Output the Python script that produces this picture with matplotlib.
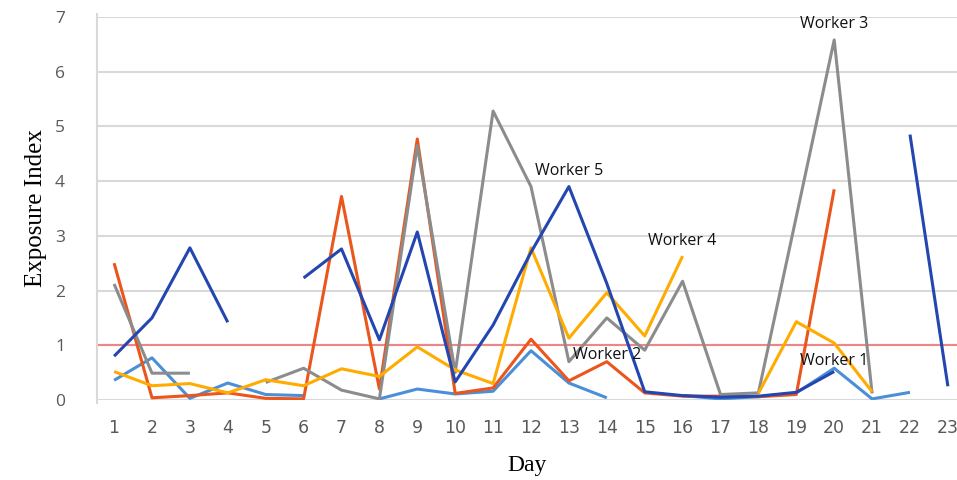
import numpy as np
import matplotlib
matplotlib.use("Agg")
import matplotlib.pyplot as plt

nan = np.nan

# Datos (dias 1-23)
dias = list(range(1, 24))
worker1 = [0.36, 0.77, 0.03, 0.31, 0.10, 0.08, nan, 0.02, 0.20, 0.11, 0.16, 0.90,
           0.31, 0.04, nan, 0.08, 0.02, 0.06, 0.13, 0.58, 0.02, 0.14, nan]
worker2 = [2.50, 0.04, 0.08, 0.13, 0.03, 0.02, 3.72, 0.20, 4.77, 0.12, 0.22, 1.11,
           0.35, 0.70, 0.13, 0.07, 0.07, 0.06, 0.10, 3.85, nan, nan, nan]
worker3 = [2.12, 0.49, 0.49, nan, 0.32, 0.58, 0.18, 0.02, 4.65, 0.50, 5.28, 3.90,
           0.70, 1.50, 0.91, 2.17, 0.10, 0.13, 3.35, 6.58, 0.12, nan, nan]
worker4 = [0.52, 0.26, 0.30, 0.13, 0.37, 0.26, 0.57, 0.43, 0.97, 0.55, 0.30, 2.78,
           1.13, 1.96, 1.17, 2.63, nan, 0.12, 1.43, 1.04, 0.15, nan, nan]
worker5 = [0.80, 1.50, 2.78, 1.42, nan, 2.23, 2.76, 1.10, 3.07, 0.33, 1.37, 2.70,
           3.90, 2.13, 0.15, 0.08, 0.05, 0.07, 0.14, 0.52, nan, 4.85, 0.25]
umbral = 1

series = [
    ("Worker 1", worker1, "#4a8fd8"),
    ("Worker 2", worker2, "#ea561c"),
    ("Worker 3", worker3, "#8c8c8c"),
    ("Worker 4", worker4, "#ffab00"),
    ("Worker 5", worker5, "#2346b0"),
]

# Etiquetas de texto (nombre, dia, valor)
etiquetas = [
    ("Worker 5", 13.0, 4.18),
    ("Worker 4", 16.0, 2.9),
    ("Worker 2", 14.0, 0.83),
    ("Worker 1", 20.0, 0.72),
    ("Worker 3", 20.0, 6.88),
]

fig = plt.figure(figsize=(9.57, 4.8), dpi=100)
ax = fig.add_axes([0.1014, 0.1667, 0.8986, 0.798])

for nombre, valores, color in series:
    ax.plot(dias, valores, color=color, linewidth=2.2, solid_capstyle="butt", zorder=3)

ax.axhline(umbral, color="#f08585", linewidth=1.5, zorder=2)

for texto, x, y in etiquetas:
    ax.text(x, y, texto, ha="center", va="center", fontsize=11.5,
            family=["Open Sans", "DejaVu Sans"], color="#111111", zorder=5)

ax.set_xlim(0.55, 23.24)
ax.set_ylim(0, 7)
ax.set_xticks(dias)
ax.set_yticks(range(0, 8))
ax.yaxis.grid(True, color="#d9d9d9", linewidth=1.5)
ax.set_axisbelow(True)

for lado in ["top", "right", "bottom"]:
    ax.spines[lado].set_visible(False)
ax.spines["left"].set_color("#d9d9d9")
ax.spines["left"].set_linewidth(1.5)
ax.spines["left"].set_bounds(-0.05, 7.05)

ax.tick_params(axis="both", length=0, colors="#595959", labelsize=12.5)
ax.tick_params(axis="y", pad=23)
ax.tick_params(axis="x", pad=14)
for lbl in ax.get_xticklabels():
    lbl.set_family(["Liberation Sans Narrow", "DejaVu Sans"])
for lbl in ax.get_yticklabels():
    lbl.set_family(["Open Sans", "DejaVu Sans"])

ax.set_xlabel("Day", family="Liberation Serif", fontsize=17, labelpad=13)
ax.set_ylabel("Exposure Index", family="Liberation Serif", fontsize=18, labelpad=6)

fig.savefig("out.png", dpi=100)
